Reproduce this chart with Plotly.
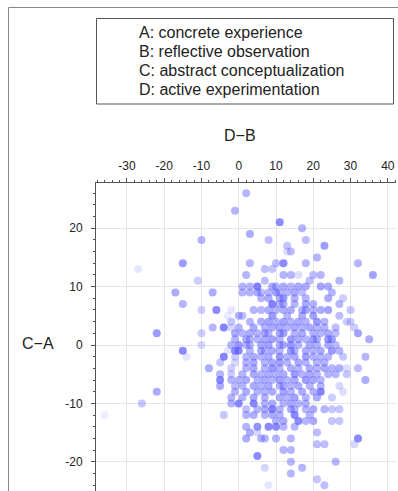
import plotly.graph_objects as go

# ---------------- data ----------------
# rows of the scatter: C-A value of each row, D-B values in that row, and each point's shade
c_minus_a_rows = [26, 23, 21, 20, 19, 18, 17, 16, 15, 14, 13, 12, 11, 10, 9, 8, 7, 6, 5, 4, 3, 2, 1, 0,
                  -1, -2, -3, -4, -5, -6, -7, -8, -9, -10, -11, -12, -13, -14, -15, -16, -17, -18,
                  -19, -20, -21, -22, -23, -24]

d_minus_b_by_row = [
    [2],
    [-1],
    [11],
    [17],
    [3],
    [-10, 8, 18],
    [13, 23],
    [13, 14],
    [21],
    [-15, 3, 10, 12, 18, 32],
    [-27, 7, 9],
    [2, 12, 14, 16, 20, 22, 36],
    [-11, 7, 19, 27],
    [1, 3, 5, 9, 10, 12, 14, 16, 18, 22, 24],
    [-17, -7, 1, 3, 5, 6, 8, 10, 11, 13, 15, 17, 25],
    [6, 8, 11, 12, 15, 18, 24, 28],
    [-15, 9, 11, 12, 15, 18, 20, 27],
    [-10, -6, -2, 4, 6, 8, 10, 12, 14, 17, 18, 20, 22, 24, 30],
    [-3, 0, 1, 9, 13, 17, 20, 27],
    [-2, 3, 6, 8, 10, 12, 14, 16, 18, 21, 23, 29, 30],
    [-7, -4, -2, 0, 4, 7, 9, 11, 13, 15, 17, 19, 21, 23, 26, 31],
    [-22, -10, -1, 1, 3, 5, 7, 8, 11, 12, 15, 17, 20, 22, 24, 26, 32],
    [-1, 2, 3, 5, 7, 9, 11, 14, 16, 18, 20, 21, 24, 25, 35],
    [-10, -2, 0, 2, 3, 6, 8, 11, 12, 14, 16, 19, 21, 24, 26],
    [-15, -3, -1, 0, 3, 6, 7, 9, 11, 14, 15, 18, 20, 22, 25, 27],
    [-14, -4, -1, 2, 4, 6, 8, 11, 13, 15, 18, 20, 22, 24, 28, 34],
    [-5, -1, 2, 4, 7, 9, 11, 13, 16, 18, 21, 23],
    [-8, -2, 2, 4, 7, 9, 11, 14, 16, 19, 21, 23, 25, 27, 29, 32],
    [-5, -2, 1, 4, 6, 8, 10, 12, 15, 17, 19, 21, 24, 26, 29],
    [-5, -2, 0, 2, 5, 7, 9, 11, 13, 15, 18, 20, 22, 34],
    [-5, -1, 1, 4, 6, 8, 11, 12, 14, 16, 19, 22, 27],
    [-22, -1, 2, 5, 7, 9, 12, 14, 17, 20, 22, 28],
    [-2, 1, 4, 7, 11, 13, 15, 18, 21, 25],
    [-26, -2, 0, 4, 7, 9, 12, 14, 16, 18],
    [2, 5, 7, 9, 11, 14, 15, 18, 20, 23, 25, 27],
    [-36, -4, 2, 4, 7, 9, 11, 15, 19],
    [10, 12, 16, 18, 20, 25, 27],
    [2, 5, 8, 10, 12, 15],
    [3, 5, 21],
    [2, 6, 7, 10, 14, 32],
    [21, 23, 31],
    [12, 14],
    [5],
    [14, 26],
    [7, 17],
    [14],
    [21],
    [8, 23],
]

shade_by_row = [
    [.45],
    [.45],
    [.7],
    [.45],
    [.5],
    [.45, .4, .4],
    [.35, .6],
    [.2, .4],
    [.45],
    [.6, .45, .4, .7, .45, .45],
    [.15, .4, .35],
    [.45, .45, .45, .2, .4, .45, .55],
    [.3, .4, .4, .45],
    [.45, .45, .75, .5, .45, .5, .45, .5, .5, .55, .5],
    [.5, .5, .45, .45, .5, .4, .45, .55, .45, .45, .5, .4, .45],
    [.45, .5, .45, .6, .45, .45, .5, .3],
    [.45, .75, .45, .5, .45, .5, .45, .45],
    [.3, .7, .15, .45, .45, .5, .45, .5, .5, .45, .55, .45, .5, .55, .35],
    [.12, .45, .4, .6, .45, .5, .55, .4],
    [.35, .45, .5, .55, .45, .55, .45, .5, .45, .6, .45, .3, .3],
    [.45, .75, .25, .45, .5, .45, .5, .5, .45, .5, .45, .5, .45, .45, .4, .3],
    [.6, .3, .5, .45, .5, .45, .5, .45, .5, .55, .45, .5, .45, .45, .5, .4, .55],
    [.45, .5, .45, .45, .5, .55, .45, .6, .5, .45, .55, .45, .6, .55, .5],
    [.25, .45, .6, .45, .45, .5, .55, .45, .5, .6, .45, .5, .45, .5, .4],
    [.7, .15, .7, .7, .45, .5, .45, .5, .45, .6, .45, .5, .45, .5, .6, .45],
    [.15, .75, .3, .45, .5, .45, .5, .6, .45, .5, .55, .45, .45, .45, .35, .45],
    [.35, .25, .45, .5, .45, .5, .55, .45, .5, .45, .45, .45],
    [.5, .3, .45, .5, .45, .6, .45, .5, .45, .5, .45, .5, .45, .5, .2, .4],
    [.45, .3, .45, .5, .45, .5, .45, .5, .6, .45, .5, .45, .45, .45, .35],
    [.7, .45, .45, .5, .45, .5, .45, .55, .45, .5, .6, .5, .45, .5],
    [.5, .4, .45, .5, .45, .5, .45, .5, .45, .5, .45, .45, .25],
    [.5, .45, .5, .45, .45, .5, .55, .45, .5, .45, .75, .2],
    [.45, .45, .5, .45, .5, .45, .55, .45, .5, .3],
    [.35, .45, .7, .7, .45, .5, .45, .5, .45, .45],
    [.4, .45, .5, .75, .45, .5, .45, .45, .5, .45, .35, .35],
    [.1, .35, .45, .5, .45, .5, .45, .7, .45],
    [.45, .5, .7, .45, .5, .35, .35],
    [.45, .65, .7, .7, .45, .45],
    [.5, .25, .4],
    [.5, .45, .45, .45, .45, .7],
    [.4, .4, .25],
    [.45, .45],
    [.7],
    [.45, .45],
    [.25, .45],
    [.45],
    [.35],
    [.15, .4],
]

x_tick_values = [-30, -20, -10, 0, 10, 20, 30, 40]
x_tick_labels = ["-30", "-20", "-10", "0", "10", "20", "30", "40"]
y_tick_values = [20, 10, 0, -10, -20]
y_tick_labels = ["20", "10", "0", "-10", "-20"]

key_lines = [
    "A: concrete experience",
    "B: reflective observation",
    "C: abstract conceptualization",
    "D: active experimentation",
]

# ---------------- build ----------------
xs, ys, alphas = [], [], []
for yv, row_x, row_a in zip(c_minus_a_rows, d_minus_b_by_row, shade_by_row):
    for xv, av in zip(row_x, row_a):
        xs.append(xv)
        ys.append(yv)
        alphas.append(av)

# page margin is removed (post_script); positions below are screen pixels
W, H = 398, 491
L, R, T, B = 96, 2, 183, 0
PW, PH = W - L - R, H - T - B


def px(xs_):
    return (xs_ - L) / PW


def py(ys_):
    return (H - B - ys_) / PH


FONT = "Liberation Sans, Arial, sans-serif"

fig = go.Figure()
fig.add_trace(go.Scatter(
    x=xs, y=ys, mode="markers",
    marker=dict(size=8, color="rgb(90,90,255)", opacity=alphas, line=dict(width=0)),
    hoverinfo="x+y", showlegend=False,
))

axis_common = dict(
    showgrid=True, gridcolor="#e6e6e6", gridwidth=1, zeroline=False,
    showline=True, linecolor="#555", linewidth=1,
    ticks="outside", tickcolor="#555", tickwidth=1,
    tickfont=dict(family=FONT, size=12, color="#222"),
    ticklabeloverflow="allow",
)

fig.update_xaxes(
    **axis_common, side="top", range=[-38.3, 42.2],
    tickmode="array", tickvals=x_tick_values, ticktext=x_tick_labels,
    ticklen=4, ticklabelstandoff=3,
    minor=dict(dtick=2, tick0=0, ticks="outside", ticklen=2, tickcolor="#555", showgrid=False),
)
fig.update_yaxes(
    **axis_common, range=[-25.0, 27.74],
    tickmode="array", tickvals=y_tick_values, ticktext=y_tick_labels,
    ticklen=4, ticklabelstandoff=6,
    minor=dict(dtick=2, tick0=0, ticks="outside", ticklen=2, tickcolor="#555", showgrid=False),
)

shapes = [
    # outer frame (top and left edges)
    dict(type="line", xref="paper", yref="paper", x0=px(8.5), x1=px(W + 20), y0=py(7.5), y1=py(7.5),
         line=dict(color="#888", width=1)),
    dict(type="line", xref="paper", yref="paper", x0=px(8.5), x1=px(8.5), y0=py(7.5), y1=py(H + 20),
         line=dict(color="#888", width=1)),
    # key box
    dict(type="rect", xref="paper", yref="paper", x0=px(96.5), x1=px(393.5), y0=py(18.5), y1=py(104),
         line=dict(color="#555", width=1), fillcolor="white"),
]

annotations = []
for i, line in enumerate(key_lines):
    annotations.append(dict(
        xref="paper", yref="paper", x=px(137), y=py(33 + i * 18.8), xanchor="left", yanchor="middle",
        text=line, showarrow=False, font=dict(family=FONT, size=16, color="#222"),
    ))
annotations.append(dict(xref="paper", yref="paper", x=px(240), y=py(135), xanchor="center", yanchor="middle",
                        text="D\u2212B", showarrow=False, font=dict(family=FONT, size=16, color="#222")))
annotations.append(dict(xref="paper", yref="paper", x=px(38), y=py(343), xanchor="center", yanchor="middle",
                        text="C\u2212A", showarrow=False, font=dict(family=FONT, size=16, color="#222")))

fig.update_layout(
    width=W, height=H, margin=dict(l=L, r=R, t=T, b=B, pad=0),
    paper_bgcolor="white", plot_bgcolor="white",
    shapes=shapes, annotations=annotations,
    font=dict(family=FONT),
)

fig.write_html(
    "out.html",
    config={"displayModeBar": False},
    post_script=("document.body.style.margin='0';document.body.style.overflow='hidden';"
                 "document.documentElement.style.overflow='hidden';"),
)
